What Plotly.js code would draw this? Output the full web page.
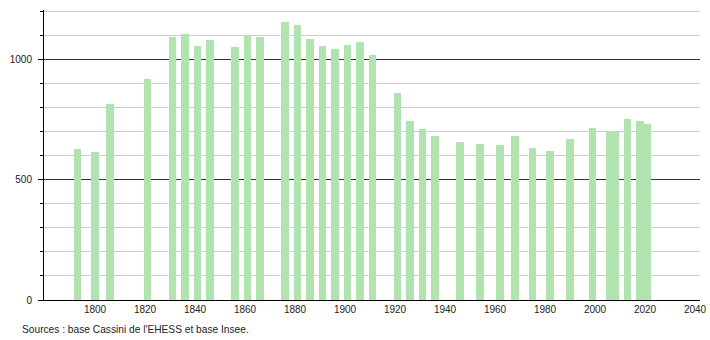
<!DOCTYPE html>
<html>
<head>
<meta charset="utf-8">
<script src="https://cdn.plot.ly/plotly-3.0.1.min.js"></script>
<style>html,body{margin:0;padding:0;background:#fff;}#chart{width:710px;height:340px;}</style>
</head>
<body>
<div id="chart"></div>
<script>
const years = [1793,1800,1806,1821,1831,1836,1841,1846,1856,1861,1866,1876,1881,1886,1891,1896,1901,1906,1911,1921,1926,1931,1936,1946,1954,1962,1968,1975,1982,1990,1999,2006,2008,2013,2018,2021];
const population = [628,615,815,920,1097,1108,1058,1085,1054,1101,1096,1158,1146,1087,1058,1046,1062,1075,1021,861,746,712,683,657,650,646,683,635,621,669,717,703,703,753,746,733];
const xTicks = [1800,1820,1840,1860,1880,1900,1920,1940,1960,1980,2000,2020,2040];
const yTicks = [0,500,1000];
const sourceText = "Sources : base Cassini de l'EHESS et base Insee.";

const trace = {
  type: 'bar',
  x: years,
  y: population,
  width: 3,
  marker: {color: '#b0e3b0', line: {width: 0}},
  hoverinfo: 'x+y'
};

const layout = {
  width: 710, height: 340,
  margin: {l: 44, r: 10, t: 10, b: 40},
  paper_bgcolor: '#fff', plot_bgcolor: '#fff',
  font: {family: 'Liberation Sans, Arial, sans-serif', size: 10, color: '#222'},
  showlegend: false,
  bargap: 0,
  xaxis: {
    range: [1779.6, 2042],
    tickmode: 'array', tickvals: xTicks, ticktext: xTicks.map(String),
    showgrid: false, zeroline: false,
    showline: true, linecolor: '#000', linewidth: 1,
    ticks: '', ticklen: 0,
    tickfont: {size: 10, color: '#222'}
  },
  yaxis: {
    range: [0, 1208],
    tickmode: 'array', tickvals: yTicks, ticktext: yTicks.map(String),
    showgrid: true, gridcolor: '#333', gridwidth: 1,
    zeroline: false,
    showline: true, linecolor: '#000', linewidth: 1,
    ticks: 'outside', ticklen: 5, tickcolor: '#000', tickwidth: 1,
    ticklabelstandoff: 4,
    minor: {dtick: 100, tick0: 0, ticks: 'outside', ticklen: 3, tickcolor: '#000', showgrid: true, gridcolor: '#cccccc', gridwidth: 1},
    tickfont: {size: 10, color: '#222'}
  },
  annotations: [{
    text: sourceText, xref: 'paper', yref: 'paper',
    x: -24/656, y: -22/290, xanchor: 'left', yanchor: 'top',
    showarrow: false, font: {size: 10.2, color: '#222'}
  }]
};

Plotly.newPlot('chart', [trace], layout, {displayModeBar: false, staticPlot: true});
</script>
</body>
</html>
